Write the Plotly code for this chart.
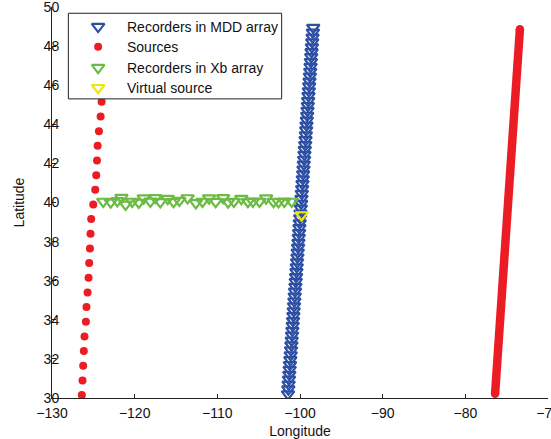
import plotly.graph_objects as go

# Recorders in the MDD array (longitude, latitude)
mdd_lon = [-101.45, -101.41, -101.37, -101.33, -101.29, -101.25, -101.21, -101.17,
           -101.12, -101.08, -101.04, -101.00, -100.96, -100.92, -100.88, -100.84,
           -100.80, -100.76, -100.72, -100.68, -100.64, -100.60, -100.55, -100.51,
           -100.47, -100.43, -100.39, -100.35, -100.31, -100.27, -100.23, -100.19,
           -100.15, -100.11, -100.07, -100.03, -99.98, -99.94, -99.90, -99.86,
           -99.82, -99.78, -99.74, -99.70, -99.66, -99.62, -99.58, -99.54,
           -99.50, -99.46, -99.42, -99.37, -99.33, -99.29, -99.25, -99.21,
           -99.17, -99.13, -99.09, -99.05, -99.01, -98.97, -98.93, -98.89,
           -98.85, -98.80, -98.76, -98.72, -98.68, -98.64, -98.60, -98.56,
           -98.52, -98.48, -98.44, -98.40]
mdd_lat = [30.20, 30.45, 30.70, 30.95, 31.20, 31.45, 31.70, 31.95,
           32.20, 32.45, 32.70, 32.95, 33.20, 33.45, 33.70, 33.95,
           34.20, 34.45, 34.70, 34.95, 35.20, 35.45, 35.70, 35.95,
           36.20, 36.45, 36.70, 36.95, 37.20, 37.45, 37.70, 37.95,
           38.20, 38.45, 38.70, 38.95, 39.20, 39.45, 39.70, 39.95,
           40.20, 40.45, 40.70, 40.95, 41.20, 41.45, 41.70, 41.95,
           42.20, 42.45, 42.70, 42.95, 43.20, 43.45, 43.70, 43.95,
           44.20, 44.45, 44.70, 44.95, 45.20, 45.45, 45.70, 45.95,
           46.20, 46.45, 46.70, 46.95, 47.20, 47.45, 47.70, 47.95,
           48.20, 48.45, 48.70, 48.95]

# Western sources
src_lon = [-126.39, -126.31, -126.23, -126.15, -126.07, -125.90, -125.83, -125.70,
           -125.58, -125.50, -125.41, -125.34, -125.26, -125.01, -124.77, -124.65,
           -124.56, -124.48, -124.32, -124.12, -124.00, -123.85, -123.70, -123.55,
           -123.40, -123.25]
src_lat = [30.15, 30.90, 31.65, 32.40, 33.15, 33.90, 34.65, 35.40,
           36.15, 36.90, 37.65, 38.40, 39.15, 39.90, 40.65, 41.40,
           42.15, 42.90, 43.65, 44.40, 45.15, 45.90, 46.65, 47.40,
           48.15, 48.90]

# Eastern source line (densely spaced sources, end points)
east_lon = [-76.40, -73.40]
east_lat = [30.22, 48.86]

# Recorders in the Xb array
xb_lon = [-123.8, -122.9, -122.1, -121.6, -121.1, -120.3, -119.5, -118.9,
          -118.1, -117.5, -116.9, -116.0, -115.3, -114.6, -113.6, -112.6,
          -111.8, -111.0, -110.2, -109.3, -108.7, -108.0, -107.1, -106.3,
          -105.7, -104.9, -104.1, -103.2, -102.6, -101.9, -101.0]
xb_lat = [40.05, 40.02, 40.08, 40.25, 39.90, 40.05, 40.00, 40.22,
          40.06, 40.24, 40.03, 40.20, 40.04, 40.10, 40.23, 39.98,
          40.05, 40.22, 40.04, 40.24, 40.02, 40.05, 40.20, 40.04,
          40.06, 40.05, 40.22, 40.04, 40.03, 40.06, 40.05]

# Virtual source
vs_lon = [-99.8]
vs_lat = [39.36]

x_ticks = [-130, -120, -110, -100, -90, -80, -70]
y_ticks = [30, 32, 34, 36, 38, 40, 42, 44, 46, 48, 50]

legend_names = ["Recorders in MDD array", "Sources",
                "Recorders in Xb array", "Virtual source"]

BLUE = "#2d4fa3"
RED = "#ec1c24"
GREEN = "#6cbb45"
YELLOW = "#f3e600"
INK = "#111111"
FONT = "Liberation Sans, Arial, Helvetica, sans-serif"
TRI = 11
TRI_W = 2.2

tri_style = lambda c: dict(symbol="triangle-down-open", size=TRI, color=c,
                           line=dict(color=c, width=TRI_W))
dot_style = dict(symbol="circle", size=8, color=RED, line=dict(width=0))

fig = go.Figure()

fig.add_trace(go.Scatter(
    x=east_lon, y=east_lat, mode="lines+markers", showlegend=False,
    line=dict(color=RED, width=8.5),
    marker=dict(symbol="circle", size=8.5, color=RED), hoverinfo="skip"))
fig.add_trace(go.Scatter(x=mdd_lon, y=mdd_lat, mode="markers",
                         name=legend_names[0], marker=tri_style(BLUE)))
fig.add_trace(go.Scatter(x=src_lon, y=src_lat, mode="markers",
                         name=legend_names[1], marker=dot_style))
fig.add_trace(go.Scatter(x=xb_lon, y=xb_lat, mode="markers",
                         name=legend_names[2], marker=tri_style(GREEN)))
fig.add_trace(go.Scatter(x=vs_lon, y=vs_lat, mode="markers",
                         name=legend_names[3], marker=tri_style(YELLOW)))

# Legend box drawn on an overlay axis spanning the plot area in [0, 1] units
lg_left, lg_right, lg_top, lg_bottom = 0.033, 0.463, 0.984, 0.765
lg_sym_x, lg_text_x = 0.093, 0.147
lg_rows = [0.950, 0.8985, 0.845, 0.7935]
fig.add_trace(go.Scatter(
    x=[lg_left, lg_right, lg_right, lg_left, lg_left],
    y=[lg_top, lg_top, lg_bottom, lg_bottom, lg_top],
    xaxis="x2", yaxis="y2", mode="lines", fill="toself",
    fillcolor="white", line=dict(color="#222222", width=1),
    showlegend=False, hoverinfo="skip"))
legend_markers = [tri_style(BLUE), dot_style, tri_style(GREEN), tri_style(YELLOW)]
for name, row, mk in zip(legend_names, lg_rows, legend_markers):
    fig.add_trace(go.Scatter(x=[lg_sym_x], y=[row], xaxis="x2", yaxis="y2",
                             mode="markers", marker=mk, showlegend=False,
                             hoverinfo="skip"))
    fig.add_annotation(x=lg_text_x, y=row, xref="x2", yref="y2", text=name,
                       showarrow=False, xanchor="left", yanchor="middle",
                       font=dict(family=FONT, size=14, color=INK))

axis_common = dict(
    showline=True, linecolor="#222222", linewidth=1, mirror=False,
    ticks="inside", ticklen=4, tickcolor="#222222", tickwidth=1,
    showgrid=False, zeroline=False, ticklabeloverflow="allow",
    automargin=False,
    tickfont=dict(family=FONT, size=14, color=INK),
)

fig.update_layout(
    width=551, height=439,
    margin=dict(l=52, r=3, t=7, b=41),
    paper_bgcolor="white", plot_bgcolor="white",
    font=dict(family=FONT, size=14, color=INK),
    showlegend=False,
    xaxis=dict(range=[-130, -70], tickvals=x_ticks, ticklabelstandoff=2,
               title=dict(text="Longitude", font=dict(family=FONT, size=14)),
               **axis_common),
    yaxis=dict(range=[30, 50], tickvals=y_ticks, ticklabelstandoff=-11,
               title=dict(text="Latitude", font=dict(family=FONT, size=14)),
               **axis_common),
    xaxis2=dict(overlaying="x", range=[0, 1], visible=False, fixedrange=True),
    yaxis2=dict(overlaying="y", range=[0, 1], visible=False, fixedrange=True),
)

fig.write_html("out.html")
